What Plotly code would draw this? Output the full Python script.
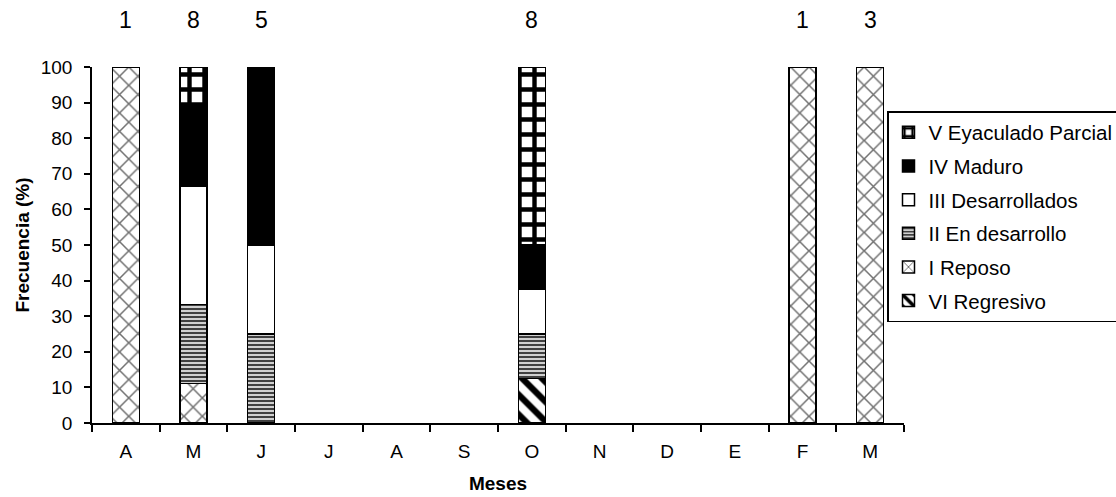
import plotly.graph_objects as go

months = ["A", "M", "J", "J", "A", "S", "O", "N", "D", "E", "F", "M"]
counts = [1, 8, 5, None, None, None, 8, None, None, None, 1, 3]

vi_regresivo = [None, None, None, None, None, None, 12.5, None, None, None, None, None]
i_reposo = [100, 11.1, None, None, None, None, None, None, None, None, 100, 100]
ii_en_desarrollo = [None, 22.2, 25, None, None, None, 12.5, None, None, None, None, None]
iii_desarrollados = [None, 33.3, 25, None, None, None, 12.5, None, None, None, None, None]
iv_maduro = [None, 22.2, 50, None, None, None, 12.5, None, None, None, None, None]
v_eyaculado = [None, 11.1, None, None, None, None, 50, None, None, None, None, None]

x = list(range(len(months)))
FONT = "Liberation Sans, Arial, sans-serif"

series = [
    ("VI Regresivo", vi_regresivo, dict(shape="\\", fgcolor="black", bgcolor="white", size=14, solidity=0.45, fgopacity=1)),
    ("I Reposo", i_reposo, dict(shape="x", fgcolor="#707070", bgcolor="white", size=13, solidity=0.22, fgopacity=1)),
    ("II En desarrollo", ii_en_desarrollo, dict(shape="-", fgcolor="#404040", bgcolor="#d0d0d0", size=4, solidity=0.5, fgopacity=1)),
    ("III Desarrollados", iii_desarrollados, dict(shape="")),
    ("IV Maduro", iv_maduro, dict(shape="")),
    ("V Eyaculado Parcial", v_eyaculado, dict(shape="+", fgcolor="black", bgcolor="white", size=15, solidity=0.5, fgopacity=1)),
]
ranks = {"V Eyaculado Parcial": 1, "IV Maduro": 2, "III Desarrollados": 3,
         "II En desarrollo": 4, "I Reposo": 5, "VI Regresivo": 6}

fig = go.Figure()
for name, vals, pat in series:
    base_color = "black" if name == "IV Maduro" else "white"
    fig.add_trace(go.Bar(
        x=x, y=vals, name=name, width=0.4, legendgroup=name, legendrank=ranks[name],
        marker=dict(color=base_color, pattern=pat, line=dict(color="black", width=1.5)),
    ))

for xi, c in zip(x, counts):
    if c is not None:
        fig.add_annotation(x=xi, y=1.132, xref="x", yref="paper", text=str(c), showarrow=False,
                           font=dict(family=FONT, size=23, color="black"), yanchor="middle")

fig.update_layout(
    barmode="stack",
    width=1116, height=497,
    margin=dict(l=92, r=212, t=67, b=74, autoexpand=False),
    plot_bgcolor="white", paper_bgcolor="white",
    font=dict(family=FONT, color="black"),
    showlegend=True,
    legend=dict(
        xref="container", yref="container",
        x=887 / 1116, xanchor="left", y=1 - 111 / 497, yanchor="top",
        traceorder="grouped", tracegroupgap=4,
        bordercolor="black", borderwidth=1.5, bgcolor="white",
        font=dict(family=FONT, size=20.5, color="black"),
    ),
)

fig.update_xaxes(
    range=[-0.5, 11.5], tickvals=x, ticktext=months, ticks="", showgrid=False,
    showline=True, linecolor="black", linewidth=1.5, zeroline=False,
    tickfont=dict(family=FONT, size=19),
    ticklabelstandoff=10,
    minor=dict(tickvals=[i - 0.5 for i in range(13)], ticks="outside", ticklen=7,
               tickcolor="black", tickwidth=1.5, showgrid=False),
    title=dict(text="<b>Meses</b>", font=dict(family=FONT, size=19), standoff=16),
)
fig.update_yaxes(
    range=[0, 100], dtick=10, ticks="outside", ticklen=6, tickcolor="black", tickwidth=1.5,
    showgrid=False, showline=True, linecolor="black", linewidth=1.5, zeroline=False,
    tickfont=dict(family=FONT, size=19), ticklabelstandoff=8,
    title=dict(text="<b>Frecuencia (%)</b>", font=dict(family=FONT, size=19), standoff=6),
)

fig.write_html("out.html")
